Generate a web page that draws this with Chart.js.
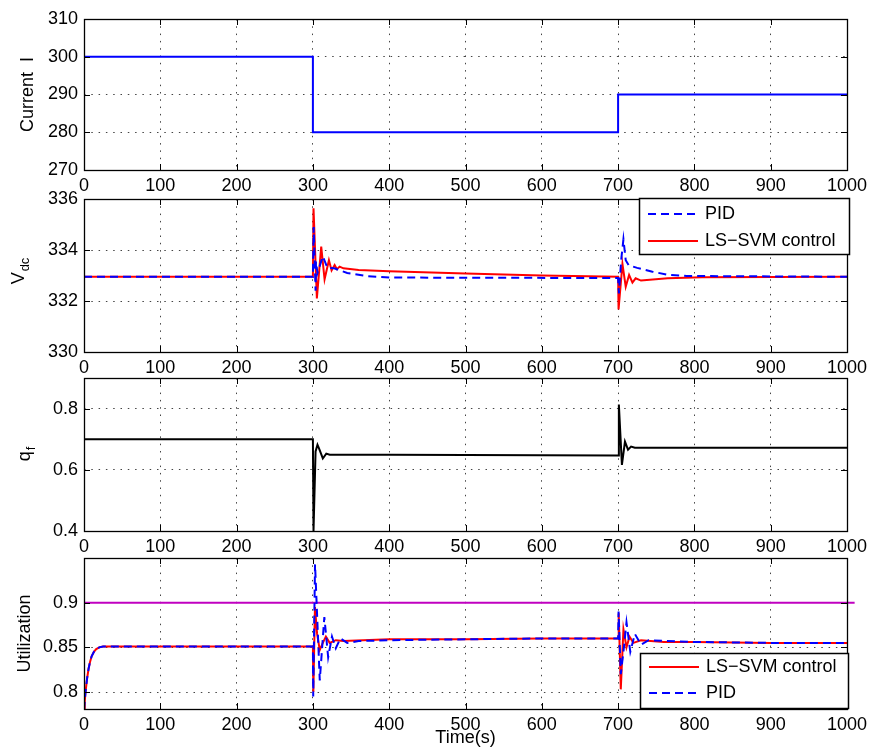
<!DOCTYPE html>
<html>
<head>
<meta charset="utf-8">
<script src="https://cdn.jsdelivr.net/npm/chart.js@4"></script>
<style>
  html, body { margin: 0; padding: 0; background: #fff; }
  #wrap { position: relative; width: 869px; height: 749px; overflow: hidden; }
  canvas { position: absolute; left: 0; }
</style>
</head>
<body>
<div id="wrap">
  <canvas id="c1"></canvas>
  <canvas id="c2"></canvas>
  <canvas id="c3"></canvas>
  <canvas id="c4"></canvas>
</div>
<script>
// ---- data ----
const xTicks = [0, 100, 200, 300, 400, 500, 600, 700, 800, 900, 1000];

// panel 1 : current
const curTicks = [270, 280, 290, 300, 310];
const curT = [0, 300, 300, 700, 700, 1000];
const curI = [300, 300, 280, 280, 290, 290];

// panel 2 : Vdc
const vdcTicks = [330, 332, 334, 336];
const pidVdcT = [0, 300, 301, 303.5, 304, 306, 313, 319, 328, 345, 370, 400, 700, 701, 704, 707, 710, 714, 725, 745, 765, 790, 1000];
const pidVdc  = [332.95, 332.95, 334.9, 332.4, 333.55, 333.1, 333.75, 333.3, 333.28, 333.1, 332.98, 332.92, 332.9, 332.3, 333.6, 334.42, 333.6, 333.4, 333.3, 333.15, 333.03, 332.98, 332.95];
const svmVdcT = [0, 300, 300.8, 305.2, 310.9, 315.3, 321, 324.5, 328.5, 331.5, 335, 340, 360, 400, 500, 600, 700, 700.6, 705.7, 710, 714.4, 718.8, 723, 730, 765, 810, 1000];
const svmVdc  = [332.95, 332.95, 335.64, 332.1, 334.13, 332.85, 333.6, 333.2, 333.41, 333.25, 333.35, 333.28, 333.22, 333.17, 333.08, 333.0, 332.95, 331.67, 333.45, 332.56, 333.02, 332.72, 332.89, 332.8, 332.89, 332.93, 332.95];

// panel 3 : q_f
const qfTicks = [0.4, 0.6, 0.8];
const qfT = [0, 300, 300.8, 303.5, 306, 308, 313, 317.5, 322, 400, 700, 701, 705, 709, 713, 717, 722, 1000];
const qf  = [0.7, 0.7, 0.4, 0.66, 0.682, 0.67, 0.637, 0.653, 0.649, 0.649, 0.647, 0.813, 0.616, 0.692, 0.666, 0.676, 0.672, 0.672];

// panel 4 : utilization
const utilTicks = [0.8, 0.85, 0.9];
const refT = [0, 1010];
const refU = [0.9, 0.9];
const svmUT = [0, 1, 2, 4, 6, 8, 10, 13, 16, 20, 25, 300, 300.6, 302.7, 305.5, 309, 313, 317, 322, 330, 340, 400, 500, 600, 700, 700.8, 703.5, 707, 711, 715, 720, 730, 760, 800, 900, 1000];
const svmU  = [0.78, 0.79, 0.80, 0.815, 0.826, 0.834, 0.84, 0.845, 0.848, 0.85, 0.851, 0.851, 0.80, 0.895, 0.865, 0.847, 0.855, 0.862, 0.855, 0.858, 0.857, 0.859, 0.859, 0.86, 0.86, 0.888, 0.803, 0.87, 0.85, 0.862, 0.855, 0.858, 0.856, 0.856, 0.855, 0.855];
const pidUT = [0, 1, 2, 4, 6, 8, 10, 13, 16, 20, 25, 300, 300.4, 302.8, 309, 315, 320, 325, 330, 336, 345, 360, 400, 500, 600, 700, 700.6, 703.5, 707, 711, 716, 722, 730, 740, 800, 900, 1000];
const pidU  = [0.78, 0.79, 0.80, 0.815, 0.826, 0.834, 0.84, 0.845, 0.848, 0.85, 0.851, 0.851, 0.795, 0.943, 0.813, 0.884, 0.839, 0.862, 0.849, 0.86, 0.855, 0.857, 0.858, 0.859, 0.86, 0.86, 0.89, 0.82, 0.845, 0.878, 0.845, 0.865, 0.853, 0.858, 0.856, 0.855, 0.855];

// ---- helpers ----
const FONT = "'Liberation Sans', Arial, Helvetica, sans-serif";
const BLUE = '#0000ff', RED = '#ff0000', BLACK = '#000000', MAGENTA = '#c000c0';
const pts = (xs, ys) => xs.map((x, i) => ({ x: x, y: ys[i] }));

// per chart extras (labels, legends) kept out of chart options
const extras = {};

// frame + inner tick marks, like matlab axes
const framePlugin = {
  id: 'frame',
  afterDatasetsDraw(chart) {
    const { ctx, chartArea: a, scales } = chart;
    ctx.save();
    ctx.strokeStyle = '#000';
    ctx.lineWidth = 1;
    ctx.beginPath();
    xTicks.forEach(v => {
      const px = Math.round(scales.x.getPixelForValue(v)) + 0.5;
      ctx.moveTo(px, a.bottom); ctx.lineTo(px, a.bottom - 6);
      ctx.moveTo(px, a.top); ctx.lineTo(px, a.top + 6);
    });
    extras[chart.canvas.id].yTicks.forEach(v => {
      const py = Math.round(scales.y.getPixelForValue(v)) + 0.5;
      ctx.moveTo(a.left, py); ctx.lineTo(a.left + 6, py);
      ctx.moveTo(a.right, py); ctx.lineTo(a.right - 6, py);
    });
    ctx.stroke();
    ctx.lineWidth = 1.3;
    ctx.strokeRect(Math.round(a.left) + 0.5, Math.round(a.top) + 0.5, Math.round(a.right - a.left), Math.round(a.bottom - a.top));
    ctx.restore();
  }
};

// y label, with optional subscript
const yLabelPlugin = {
  id: 'ylab',
  afterDraw(chart) {
    const e = extras[chart.canvas.id];
    const { ctx, chartArea: a } = chart;
    ctx.save();
    ctx.translate(e.labX, (a.top + a.bottom) / 2 + (e.labDY || 0));
    ctx.rotate(-Math.PI / 2);
    ctx.fillStyle = '#000';
    ctx.textBaseline = 'middle';
    ctx.textAlign = 'left';
    ctx.font = '18px ' + FONT;
    const wm = ctx.measureText(e.label).width;
    let ws = 0;
    if (e.sub) { ctx.font = '13px ' + FONT; ws = ctx.measureText(e.sub).width; }
    const start = -(wm + ws) / 2;
    ctx.font = '18px ' + FONT;
    ctx.fillText(e.label, start, 0);
    if (e.sub) {
      ctx.font = '13px ' + FONT;
      ctx.fillText(e.sub, start + wm + 1, 6);
    }
    ctx.restore();
  }
};

// boxed legend drawn inside the axes
const legendPlugin = {
  id: 'legbox',
  afterDraw(chart) {
    const e = extras[chart.canvas.id];
    if (!e.legend) return;
    const L = e.legend;
    const { ctx } = chart;
    const oy = e.offTop;
    ctx.save();
    ctx.fillStyle = '#fff';
    ctx.fillRect(L.x, L.y - oy, L.w, L.h);
    ctx.strokeStyle = '#000';
    ctx.lineWidth = 1.5;
    ctx.strokeRect(L.x + 0.5, L.y - oy + 0.5, L.w, L.h);
    ctx.font = '18px ' + FONT;
    ctx.textBaseline = 'middle';
    ctx.fillStyle = '#000';
    L.items.forEach((di, k) => {
      const ds = chart.data.datasets[di];
      const y = L.rowY[k] - oy;
      ctx.save();
      ctx.strokeStyle = ds.borderColor;
      ctx.lineWidth = ds.borderWidth;
      ctx.setLineDash(ds.borderDash || []);
      ctx.beginPath();
      ctx.moveTo(L.x + 9, y); ctx.lineTo(L.x + 59, y);
      ctx.stroke();
      ctx.restore();
      ctx.fillText(ds.label, L.x + 66, y);
    });
    ctx.restore();
  }
};

function axisX(withTitle) {
  return {
    type: 'linear', min: 0, max: 1000,
    afterBuildTicks: s => { s.ticks = xTicks.map(v => ({ value: v })); },
    afterFit: s => { s.height = withTitle ? 40 : 30; s.paddingLeft = 0; s.paddingRight = 0; },
    ticks: { color: '#000', font: { family: FONT, size: 18 }, padding: 5, maxRotation: 0, autoSkip: false, callback: v => String(v) },
    grid: { color: '#444', lineWidth: 1, drawTicks: false },
    border: { display: false, dash: [1.5, 5.8] },
    title: { display: withTitle, text: 'Time(s)', color: '#000', font: { family: FONT, size: 18 }, padding: 0 }
  };
}

function axisY(min, max, ticks) {
  return {
    min: min, max: max,
    afterBuildTicks: s => { s.ticks = ticks.map(v => ({ value: v })); },
    afterFit: s => { s.width = 84; s.paddingTop = 0; s.paddingBottom = 0; },
    ticks: { color: '#000', font: { family: FONT, size: 18 }, padding: 6, callback: v => String(v) },
    grid: { color: '#444', lineWidth: 1, drawTicks: false },
    border: { display: false, dash: [1.5, 5.8] }
  };
}

function line(label, data, color, dashed, extra) {
  return Object.assign({
    label: label, data: data, borderColor: color, backgroundColor: color,
    borderWidth: 2, borderDash: dashed ? [8, 5] : [], pointRadius: 0, tension: 0, fill: false
  }, extra || {});
}

function makePanel(id, plotTop, plotBottom, xh, datasets, yMin, yMax, yTicks, e) {
  const cv = document.getElementById(id);
  const offTop = plotTop - 12;
  cv.width = 869;
  cv.height = plotBottom - plotTop + 12 + xh;
  cv.style.top = offTop + 'px';
  extras[id] = Object.assign({ offTop: offTop, yTicks: yTicks }, e);
  return new Chart(cv, {
    type: 'line',
    data: { datasets: datasets },
    options: {
      responsive: false, animation: false, events: [],
      layout: { padding: { top: 12, right: 22, left: 0, bottom: 0 } },
      plugins: { legend: { display: false }, tooltip: { enabled: false } },
      scales: { x: axisX(xh > 30), y: axisY(yMin, yMax, yTicks) }
    },
    plugins: [framePlugin, yLabelPlugin, legendPlugin]
  });
}

// panel 1
makePanel('c1', 19, 170, 30,
  [line('Current', pts(curT, curI), BLUE, false)],
  270, 310, curTicks, { label: 'Current  I', labX: 28 });

// panel 2
makePanel('c2', 199, 352, 30,
  [line('PID', pts(pidVdcT, pidVdc), BLUE, true),
   line('LS\u2212SVM control', pts(svmVdcT, svmVdc), RED, false)],
  330, 336, vdcTicks,
  { label: 'V', sub: 'dc', labX: 19, labDY: -4,
    legend: { x: 639, y: 198, w: 210, h: 56, rowY: [214, 241], items: [0, 1] } });

// panel 3
makePanel('c3', 378, 531, 30,
  [line('qf', pts(qfT, qf), BLACK, false)],
  0.4, 0.9, qfTicks, { label: 'q', sub: 'f', labX: 25 });

// panel 4
makePanel('c4', 558, 709, 40,
  [line('PID', pts(pidUT, pidU), BLUE, true),
   line('LS\u2212SVM control', pts(svmUT, svmU), RED, false),
   line('ref', pts(refT, refU), MAGENTA, false, { clip: false })],
  0.781, 0.95, utilTicks,
  { label: 'Utilization', labX: 25,
    legend: { x: 640, y: 653, w: 208, h: 55, rowY: [667, 693], items: [1, 0] } });
</script>
</body>
</html>
